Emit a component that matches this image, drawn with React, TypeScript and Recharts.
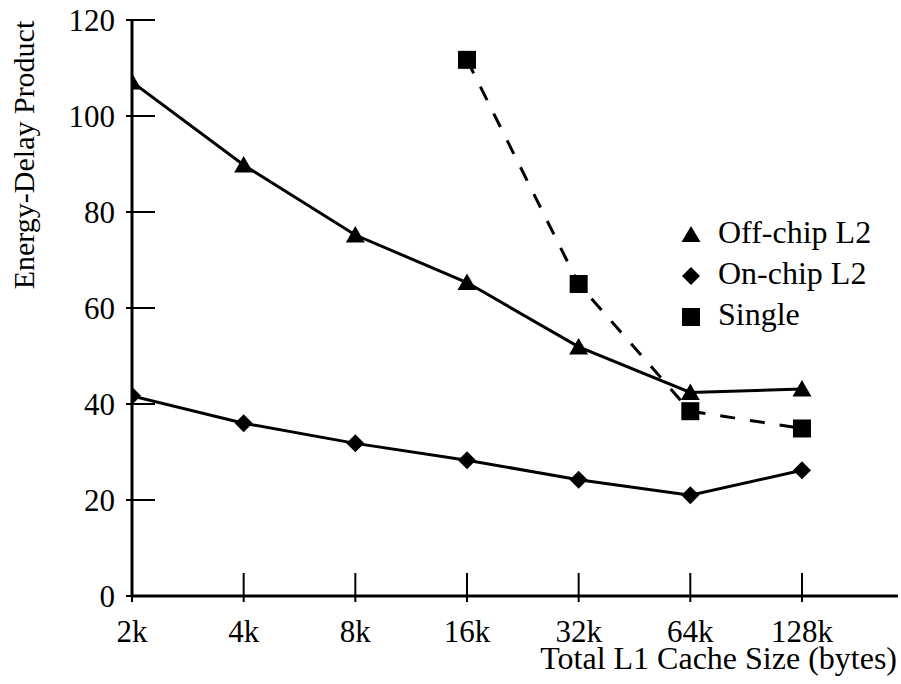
import React from 'react';
import { LineChart, Line, XAxis, YAxis, Legend } from 'recharts';

const categories = ['2k', '4k', '8k', '16k', '32k', '64k', '128k'];
const offChipL2 = [107.1, 89.8, 75.2, 65.3, 51.9, 42.4, 43.1];
const onChipL2 = [41.7, 36.0, 31.8, 28.3, 24.2, 21.0, 26.2];
const single: (number | null)[] = [null, null, null, 111.7, 65.0, 38.5, 34.9];
const yTicks = [0, 20, 40, 60, 80, 100, 120];
const seriesNames = ['Off-chip L2', 'On-chip L2', 'Single'];

const data = categories.map((c, i) => ({
  idx: i,
  label: c,
  off: offChipL2[i],
  on: onChipL2[i],
  single: single[i],
}));

const FONT = '"Liberation Serif", "Times New Roman", serif';

const Triangle = (props: any) => {
  const { cx, cy } = props;
  if (cx == null || cy == null) return null;
  return <polygon points={`${cx},${cy - 9} ${cx + 9.5},${cy + 7.5} ${cx - 9.5},${cy + 7.5}`} fill="#000" />;
};
const Diamond = (props: any) => {
  const { cx, cy } = props;
  if (cx == null || cy == null) return null;
  return <polygon points={`${cx},${cy - 9} ${cx + 9},${cy} ${cx},${cy + 9} ${cx - 9},${cy}`} fill="#000" />;
};
const Square = (props: any) => {
  const { cx, cy } = props;
  if (cx == null || cy == null) return null;
  return <rect x={cx - 9} y={cy - 9} width={18} height={18} fill="#000" />;
};

const XTick = (props: any) => {
  const { x, y, payload } = props;
  return (
    <g>
      <line x1={x} x2={x} y1={y - 23} y2={y + 6} stroke="#000" strokeWidth={2} />
      <text x={x} y={y + 46} textAnchor="middle" fontFamily={FONT} fontSize={31} fill="#000">
        {categories[payload.value]}
      </text>
    </g>
  );
};

const YTick = (props: any) => {
  const { x, y, payload } = props;
  return (
    <g>
      <line x1={x - 6} x2={x + 23} y1={y} y2={y} stroke="#000" strokeWidth={2} />
      <text x={x - 17} y={y} dy="0.34em" textAnchor="end" fontFamily={FONT} fontSize={31} fill="#000">
        {payload.value}
      </text>
    </g>
  );
};

const LegendContent = () => {
  const icons = [
    <polygon key="t" points="21,16 30.5,32 11.5,32" fill="#000" />,
    <polygon key="d" points="21,57 30,66 21,75 12,66" fill="#000" />,
    <rect key="s" x={12} y={98} width={18} height={18} fill="#000" />,
  ];
  return (
    <svg width={230} height={130} style={{ display: 'block' }}>
      {icons}
      {seriesNames.map((n, i) => (
        <text key={n} x={48} y={33 + 41 * i} fontFamily={FONT} fontSize={32} fill="#000">
          {n}
        </text>
      ))}
    </svg>
  );
};

export default function App() {
  return (
    <div style={{ position: 'absolute', left: 0, top: 0, width: 901, height: 684, background: '#fff' }}>
      <LineChart width={901} height={684} data={data} margin={{ top: 20, right: 3, bottom: 0, left: 0 }}>
        <XAxis
          dataKey="idx"
          type="number"
          domain={[0, 6.86]}
          ticks={[0, 1, 2, 3, 4, 5, 6]}
          interval={0}
          height={88}
          tickSize={0}
          tickMargin={0}
          tickLine={false}
          axisLine={{ stroke: '#000', strokeWidth: 3 }}
          tick={<XTick />}
          allowDataOverflow
        />
        <YAxis
          type="number"
          domain={[0, 120]}
          ticks={yTicks}
          interval={0}
          width={132}
          tickSize={0}
          tickMargin={0}
          tickLine={false}
          axisLine={{ stroke: '#000', strokeWidth: 3 }}
          tick={<YTick />}
        />
        <Legend
          layout="horizontal"
          verticalAlign="middle"
          align="center"
          content={<LegendContent />}
          wrapperStyle={{ position: 'absolute', left: 670, top: 210, width: 230, height: 130 }}
        />
        <Line
          dataKey="off"
          stroke="#000"
          strokeWidth={3}
          dot={<Triangle />}
          activeDot={false}
          isAnimationActive={false}
        />
        <Line
          dataKey="on"
          stroke="#000"
          strokeWidth={3}
          dot={<Diamond />}
          activeDot={false}
          isAnimationActive={false}
        />
        <Line
          dataKey="single"
          stroke="#000"
          strokeWidth={3}
          strokeDasharray="15 15"
          dot={<Square />}
          activeDot={false}
          connectNulls={false}
          isAnimationActive={false}
        />
        <text
          x={897}
          y={669}
          textAnchor="end"
          fontFamily={FONT}
          fontSize={32}
          fill="#000"
        >
          Total L1 Cache Size (bytes)
        </text>
        <text
          x={34}
          y={155}
          transform="rotate(-90 34 155)"
          textAnchor="middle"
          fontFamily={FONT}
          fontSize={30}
          fill="#000"
        >
          Energy-Delay Product
        </text>
      </LineChart>
    </div>
  );
}
